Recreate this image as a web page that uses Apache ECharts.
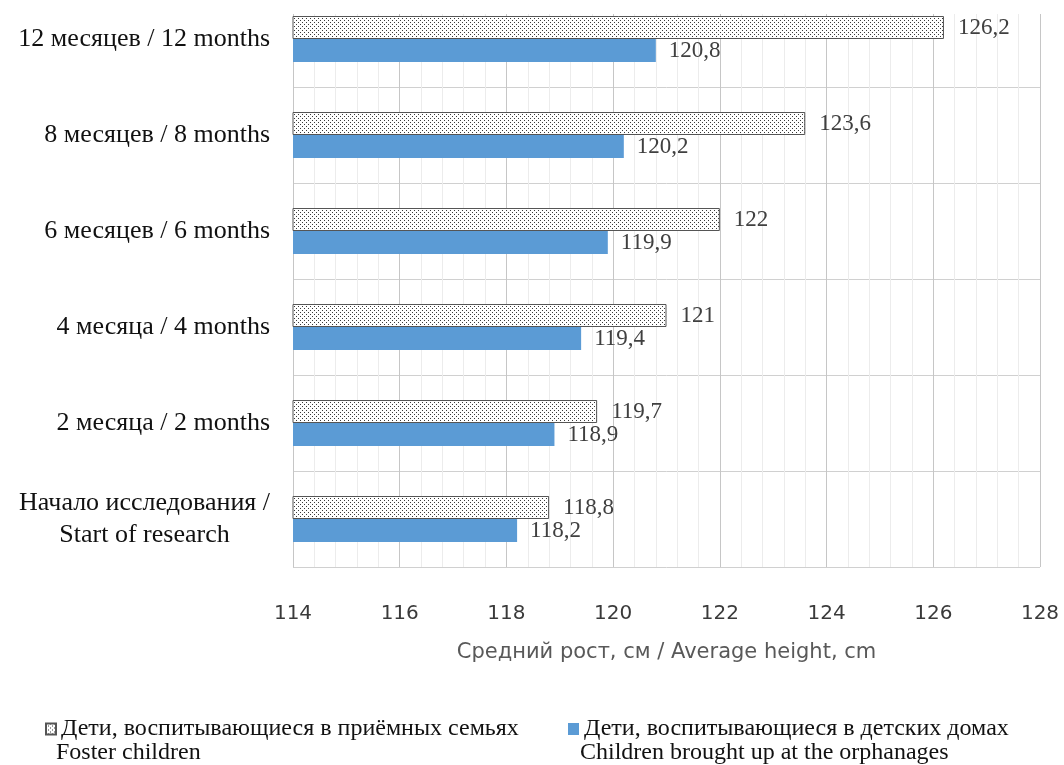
<!DOCTYPE html>
<html>
<head>
<meta charset="utf-8">
<script src="https://cdn.jsdelivr.net/npm/echarts@6/dist/echarts.min.js"></script>
<style>
  html, body { margin: 0; padding: 0; background: #fff; }
  #chart { width: 1064px; height: 765px; }
</style>
</head>
<body>
<div id="chart"></div>
<script>
// Stages of the study, bottom to top
const categories = [
  'Начало исследования /\nStart of research',
  '2 месяца / 2 months',
  '4 месяца / 4 months',
  '6 месяцев / 6 months',
  '8 месяцев / 8 months',
  '12 месяцев / 12 months'
];
// Average height, cm
const fosterValues = [118.8, 119.7, 121, 122, 123.6, 126.2];
const orphanageValues = [118.2, 118.9, 119.4, 119.9, 120.2, 120.8];

const fosterName = 'Дети, воспитывающиеся в приёмных семьях';
const fosterNameEn = 'Foster children';
const orphanageName = 'Дети, воспитывающиеся в детских домах';
const orphanageNameEn = 'Children brought up at the orphanages';

const axisMin = 114, axisMax = 128, axisStep = 2;
const axisTitle = 'Средний рост, см / Average height, cm';

// Dotted fill for the foster-children bars
const dots = document.createElement('canvas');
dots.width = 4; dots.height = 4;
const dctx = dots.getContext('2d');
dctx.fillStyle = '#ffffff';
dctx.fillRect(0, 0, 4, 4);
dctx.fillStyle = '#3a3a3a';
dctx.fillRect(0, 0, 1, 1);
dctx.fillRect(2, 2, 1, 1);
const dotFill = { image: dots, repeat: 'repeat' };

const serif = '"Liberation Serif", "Times New Roman", serif';
const sans = '"DejaVu Sans", Arial, sans-serif';
const comma = p => String(p.value).replace('.', ',');

const chart = echarts.init(document.getElementById('chart'), null, { renderer: 'canvas' });

chart.setOption({
  animation: false,
  backgroundColor: '#ffffff',
  grid: { left: 293, right: 24, top: -9, height: 576, containLabel: false, outerBoundsMode: 'none' },
  xAxis: {
    type: 'value',
    min: axisMin, max: axisMax, interval: axisStep,
    axisLine: { show: false },
    axisTick: { show: false },
    axisLabel: { margin: 37, fontFamily: sans, fontSize: 20, color: '#3a3a3a' },
    splitLine: { show: true, lineStyle: { color: '#c6c6c6', width: 1 } },
    minorTick: { show: false, splitNumber: 5 },
    minorSplitLine: { show: true, lineStyle: { color: '#ececec', width: 1 } },
    name: axisTitle,
    nameLocation: 'middle',
    nameGap: 75,
    nameTextStyle: { fontFamily: sans, fontSize: 21, color: '#595959' }
  },
  yAxis: {
    type: 'category',
    data: categories,
    axisLine: { show: true, lineStyle: { color: '#c6c6c6' } },
    axisTick: { show: false },
    splitLine: { show: true, lineStyle: { color: '#d0d0d0', width: 1 } },
    axisLabel: {
      margin: 23,
      fontFamily: serif,
      fontSize: 26,
      color: '#111111',
      formatter: v => v.split('\n').map(s => '{c|' + s + '}').join('\n'),
      rich: { c: { align: 'center', fontFamily: serif, fontSize: 26, color: '#111111', lineHeight: 32 } }
    }
  },
  legend: [
    {
      data: [fosterName], left: 40, top: 712, itemWidth: 10, itemHeight: 11,
      icon: 'rect',
      textStyle: { fontFamily: serif, fontSize: 24, color: '#111111' }
    },
    {
      data: [orphanageName], left: 563, top: 712, itemWidth: 11, itemHeight: 12,
      icon: 'rect',
      textStyle: { fontFamily: serif, fontSize: 24, color: '#111111' }
    }
  ],
  graphic: [
    // keep the plot's top edge clear above the first bar
    { type: 'rect', shape: { x: 292, y: 0, width: 752, height: 14 }, style: { fill: '#ffffff' }, z: 1, silent: true },
    { type: 'text', left: 56, top: 741, style: { text: fosterNameEn, font: '24px ' + serif, fill: '#111111' } },
    { type: 'text', left: 580, top: 741, style: { text: orphanageNameEn, font: '24px ' + serif, fill: '#111111' } }
  ],
  series: [
    {
      name: fosterName,
      type: 'bar',
      data: fosterValues,
      barWidth: 23,
      barGap: '0%',
      itemStyle: { color: dotFill, borderColor: '#555555', borderWidth: 1 },
      label: { show: true, position: 'right', distance: 14, formatter: comma,
               fontFamily: serif, fontSize: 23, color: '#404040' },
      z: 3
    },
    {
      name: orphanageName,
      type: 'bar',
      data: orphanageValues,
      barWidth: 23,
      barGap: '0%',
      itemStyle: { color: '#5b9bd5' },
      label: { show: true, position: 'right', distance: 13, formatter: comma,
               fontFamily: serif, fontSize: 23, color: '#404040' },
      z: 3
    }
  ]
});
</script>
</body>
</html>
